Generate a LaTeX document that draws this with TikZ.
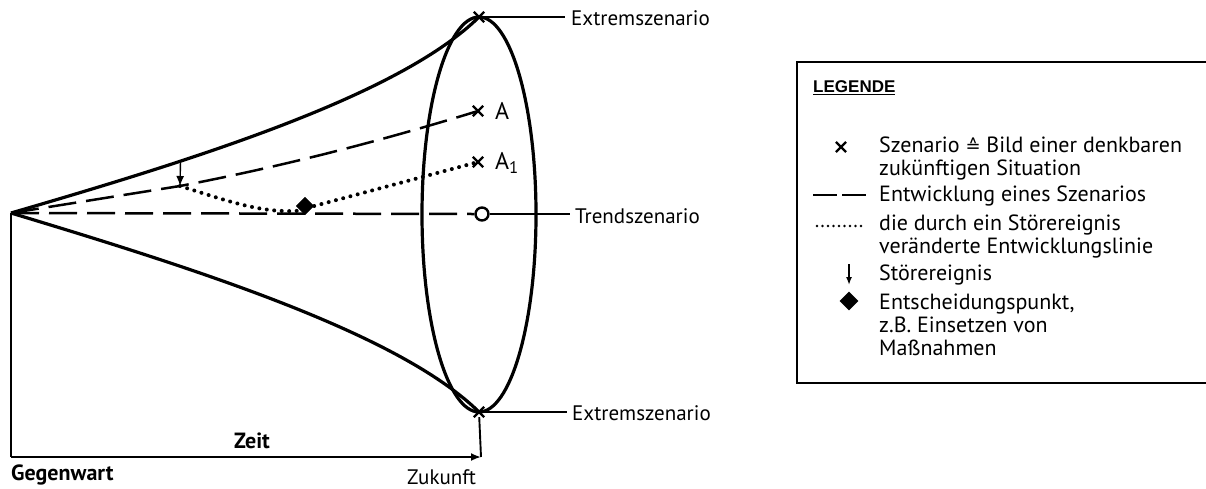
\documentclass[tikz,border=0pt]{standalone}
\usepackage{fontspec}
\setmainfont{PT Sans}
\newfontfamily\symfont{DejaVu Sans}
\newfontfamily\legfont{Liberation Sans}
\usetikzlibrary{arrows.meta,shapes.misc,shapes.geometric}
\tikzset{
  outline/.style={line width=3.2pt},
  devline/.style={line width=2.5pt, dash pattern=on 28pt off 10pt},
  altline/.style={line width=4pt, line cap=round, dash pattern=on 0pt off 7.5pt},
  thinline/.style={line width=1.4pt},
  xmark/.style={draw, cross out, line width=2.4pt, minimum size=8pt, inner sep=0pt},
  trendmark/.style={draw, circle, line width=2.4pt, minimum size=13pt, inner sep=0pt, fill=white},
  decision/.style={diamond, fill=black, minimum size=18pt, inner sep=0pt},
  lbl/.style={font=\fontsize{21}{23}\selectfont, inner sep=0pt},
  leg/.style={font=\fontsize{22}{23}\selectfont, inner sep=0pt, anchor=west, align=left},
  tip/.style={-{Latex[length=10pt,width=8pt]}}
}
\begin{document}
\begin{tikzpicture}[x=1pt,y=-1pt]
\useasboundingbox (0,0) rectangle (1206,488);
% key points
\coordinate (O) at (11,213);
\coordinate (S) at (180,186);
\node[xmark] (E1) at (479,17) {};
\node[xmark] (E2) at (479,412) {};
\node[xmark] (A) at (478,111) {};
\node[xmark] (A1) at (478,162) {};
% cone
\draw[outline] (479,214.5) ellipse [x radius=57, y radius=197.5];
\draw[outline] (O) .. controls (200,158) and (400,95) .. (E1.center) coordinate[pos=0.3] (Top);
\draw[outline] (O) .. controls (200,270) and (400,334) .. (E2.center);
% development lines
\node[decision] (D) at (305,206) {};
\node[trendmark] (T) at (482,214) {};
\draw[devline] (O) -- (T.west);
\draw[devline] (O) -- (S) .. controls (300,163) and (400,135) .. (A.center);
\draw[altline] (S) .. controls (225,200) and (262,214) .. (D.south west);
\draw[altline] (D.east) -- (A1.center);
\draw[thinline, tip] (Top) -- (S);
\node[decision] at (D) {};
% labels A, A1
\node[lbl, anchor=west, font=\fontsize{24}{26}\selectfont] (LA) at (495,111) {A};
\node[lbl, anchor=west, font=\fontsize{24}{26}\selectfont] (LA1) at (495,163) {A\textsubscript{1}};
% scenario labels
\node[lbl, anchor=west] (X1) at (571,18) {Extremszenario};
\node[lbl, anchor=west] (X2) at (572,413) {Extremszenario};
\node[lbl, anchor=west] (TR) at (575,216) {Trendszenario};
\draw[thinline] (E1) -- ([xshift=-6pt]X1.west |- E1);
\draw[thinline] (E2) -- ([xshift=-5pt]X2.west |- E2);
\draw[thinline] (T.east) -- ([xshift=-5pt]TR.west |- T);
% time axis
\coordinate (G) at (11,457);
\coordinate (Z) at (481,457);
\draw[line width=1.9pt] (O) -- (G);
\draw[line width=1.9pt, tip] (G) -- (Z);
\draw[line width=1.9pt] (E2) -- (Z);
\node[lbl, font=\fontsize{22}{24}\bfseries] (Zeit) at (252,441) {Zeit};
\node[lbl, anchor=west, font=\fontsize{22}{24}\bfseries] (Geg) at (11,475) {Gegenwart};
\node[lbl, anchor=west] (Zuk) at (407,477) {Zukunft};
% legend
\draw[line width=2.2pt] (797,62) rectangle (1212,383);
\node[inner sep=0pt, anchor=west, font=\legfont\fontsize{17}{19}\bfseries] (LG) at (813,88) {\underline{LEGENDE}};
\node[xmark, minimum size=8pt, line width=2.2pt] (M1) at (841,147) {};
\node[leg] (L1) at (879,158) {Szenario {\symfont\fontsize{18}{20}\selectfont ≙} Bild einer denkbaren\\zukünftigen Situation};
\coordinate (M2a) at (813,195);
\coordinate (M2b) at (867,195);
\draw[line width=1.8pt, dash pattern=on 24pt off 5pt] (M2a) -- (M2b);
\node[leg] (L2) at (879,196) {Entwicklung eines Szenarios};
\coordinate (M3a) at (817,226);
\coordinate (M3b) at (862,226);
\draw[line width=2.8pt, line cap=round, dash pattern=on 0pt off 5.5pt] (M3a) -- (M3b);
\node[leg] (L3) at (879,236) {die durch ein Störereignis\\veränderte Entwicklungslinie};
\coordinate (M4a) at (849,264);
\coordinate (M4b) at (849,285);
\draw[line width=1.5pt, -{Latex[length=8pt,width=6pt]}] (M4a) -- (M4b);
\node[leg] (L4) at (879,275) {Störereignis};
\node[decision, minimum size=19pt] (M5) at (849,301) {};
\node[leg] (L5) at (879,325) {Entscheidungspunkt,\\z.B. Einsetzen von\\Maßnahmen};
\end{tikzpicture}
\end{document}
